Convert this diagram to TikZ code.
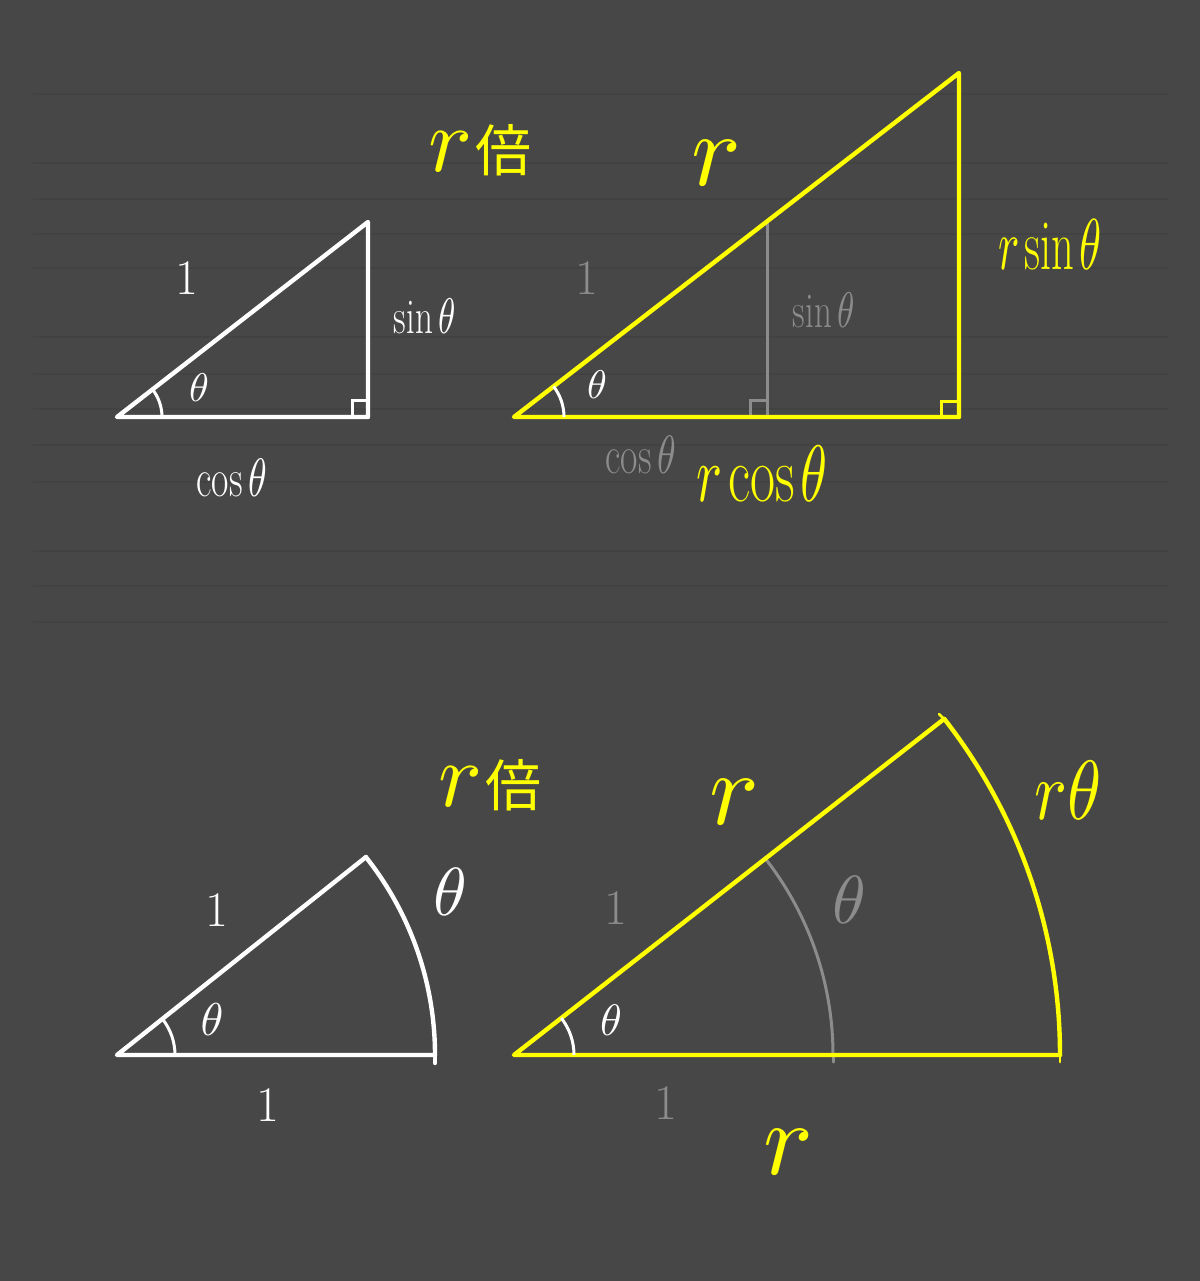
\documentclass[tikz,border=0pt]{standalone}
\usepackage{fontspec}
\DeclareFontShape{OML}{cmm}{m}{it}{<-> cmmi10}{}
\newfontfamily\cjk{Noto Sans CJK JP}
\definecolor{bg}{RGB}{71,71,71}
\definecolor{rule}{RGB}{66,66,66}
\definecolor{yel}{RGB}{255,255,0}
\definecolor{gry}{RGB}{140,140,140}
\newcommand\nar[2]{\scalebox{#1}[1]{#2}}
\newcommand\rbei{{\fontsize{46}{46}\selectfont$r$}\hspace{1pt}{\cjk\fontsize{28}{28}\selectfont 倍}}
\tikzset{
  edgeW/.style={draw=white,line width=2.2pt,line cap=round,line join=round},
  edgeY/.style={draw=yel,line width=2.2pt,line cap=round,line join=round},
  edgeG/.style={draw=gry,line width=1.5pt,line cap=round},
  anglearc/.style={draw=white,line width=1.5pt},
  rmark/.style={line width=1.5pt},
  lbl/.style={inner sep=0pt,outer sep=0pt},
  wl/.style={lbl,text=white},
  gl/.style={lbl,text=gry},
  yl/.style={lbl,text=yel},
  fs/.style={font=\fontsize{#1}{#1}\selectfont},
}
\begin{document}
\begin{tikzpicture}[x=0.5pt,y=-0.5pt]
\fill[bg] (0,0) rectangle (1200,1281);
\useasboundingbox (0,0) rectangle (1200,1281);
% faint ruled lines
\foreach \yy in {94,163,199,234,268,337,374,409,445,482,551,586,622}
  \draw[rule,line width=0.6pt] (33,\yy) -- (1168,\yy);

% ---------- top-left triangle (white) ----------
\coordinate (A1) at (117,417);
\coordinate (C1) at (368,417);
\coordinate (B1) at (368,222);
\draw[edgeW] (A1) -- (C1) -- (B1) -- cycle;
\draw[anglearc] (A1) ++(45,0) arc[start angle=0,end angle=-37.8,radius=45];
\draw[rmark,white] (C1) ++(-16,0) -- ++(0,-17) -- ++(16,0);
\node[wl,fs=26] (t1one) at (187,278) {$1$};
\node[wl,fs=25] (t1sin) at (425,316) {\nar{0.7}{$\sin\theta$}};
\node[wl,fs=20] (t1th) at (199,388) {$\theta$};
\node[wl,fs=27] (t1cos) at (232,478) {\nar{0.7}{$\cos\theta$}};

% ---------- top-right triangle (yellow) ----------
\node[yl] (t2rb) at (480,150) {\rbei};
\coordinate (A2) at (514,417);
\coordinate (C2) at (959,417);
\coordinate (B2) at (959,73);
\coordinate (D2) at (767,221);
\coordinate (E2) at (767,417);
\draw[edgeG] (D2) -- (E2);
\draw[rmark,gry] (E2) ++(-17,0) -- ++(0,-17) -- ++(17,0);
\draw[edgeY] (A2) -- (C2) -- (B2) -- cycle;
\draw[rmark,yel] (C2) ++(-18,0) -- ++(0,-16) -- ++(18,0);
\draw[anglearc] (A2) ++(50,0) arc[start angle=0,end angle=-37.7,radius=50];
\node[yl,fs=52] (t2r) at (716,163) {$r$};
\node[gl,fs=24] (t2one) at (587,278) {$1$};
\node[gl,fs=25] (t2sin) at (824,310) {\nar{0.7}{$\sin\theta$}};
\node[yl,fs=36] (t2rsin) at (1050,245) {\nar{0.62}{$r\sin\theta$}};
\node[wl,fs=20] (t2th) at (597,385) {$\theta$};
\node[gl,fs=27] (t2cos) at (641,455) {\nar{0.7}{$\cos\theta$}};
\node[yl,fs=40] (t2rcos) at (762,474) {\nar{0.68}{$r\cos\theta$}};

% ---------- bottom-left sector (white) ----------
\node[yl] (s1rb) at (490,785) {\rbei};
\coordinate (O3) at (117,1055);
\coordinate (P3) at (435,1055);
\coordinate (Q3) at (366,857);
\draw[edgeW] (Q3) -- (O3) -- (P3);
\draw[edgeW] (P3) arc[start angle=0,end angle=-38.5,radius=318];
\draw[edgeW] (P3) -- ++(0,8);
\draw[anglearc] (O3) ++(58,0) arc[start angle=0,end angle=-38.5,radius=58];
\node[wl,fs=25] (s1one) at (217,910) {$1$};
\node[wl,fs=23] (s1th) at (212,1020) {$\theta$};
\node[wl,fs=27] (s1one2) at (268,1105) {$1$};
\node[wl,fs=34] (s1arc) at (450,892) {$\theta$};

% ---------- bottom-right sector (yellow) ----------
\coordinate (O4) at (514,1055);
\coordinate (P4) at (1060,1055);
\coordinate (Q4) at (944,719);
\coordinate (G4) at (833,1055);
\draw[edgeG] (G4) arc[start angle=0,end angle=-38,radius=319];
\draw[edgeG] (G4) -- ++(0,7);
\draw[edgeY] (Q4) -- (O4) -- (P4);
\draw[edgeY] (P4) arc[start angle=0,end angle=-38,radius=546];
\draw[edgeY,line width=1.4pt] (P4) ++(0,-7) -- ++(0,14);
\draw[edgeY,line width=1.4pt] (Q4) ++(-5,-5) -- ++(10,10);
\draw[anglearc] (O4) ++(60,0) arc[start angle=0,end angle=-38,radius=60];
\node[yl,fs=52] (s2r) at (734,802) {$r$};
\node[yl,fs=42] (s2rth) at (1068,790) {\nar{0.82}{$r\theta$}};
\node[gl,fs=24] (s2one) at (616,908) {$1$};
\node[gl,fs=34] (s2th) at (849,900) {$\theta$};
\node[wl,fs=22] (s2wth) at (611,1020) {$\theta$};
\node[gl,fs=25] (s2one2) at (666,1103) {$1$};
\node[yl,fs=52] (s2rbot) at (788,1152) {$r$};
\end{tikzpicture}
\end{document}
